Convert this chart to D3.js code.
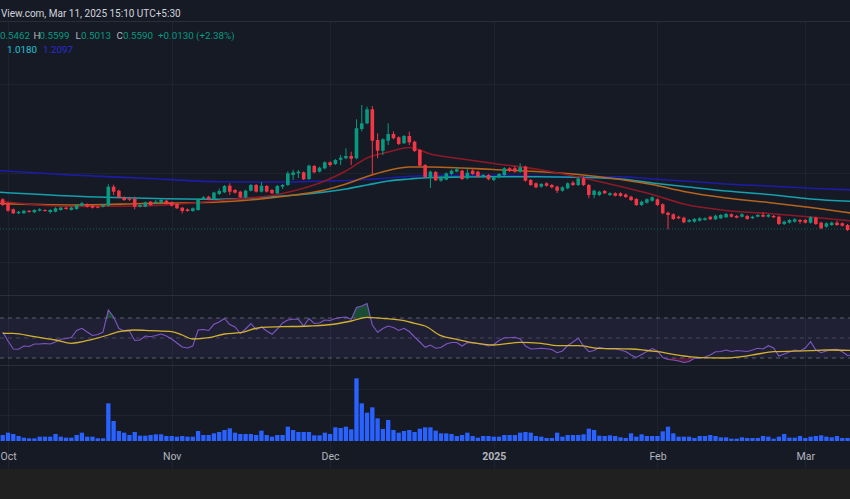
<!DOCTYPE html>
<html><head><meta charset="utf-8">
<script src="https://cdn.jsdelivr.net/npm/d3@7"></script>
<style>html,body{margin:0;padding:0;background:#161a25;overflow:hidden}</style>
</head><body><svg id="c" width="850" height="499"></svg>
<script>
// ---------- DATA ----------
const startDate = "2024-09-30"; // first daily bar, one bar per day
const open  = [1.058,0.991,0.890,0.823,0.823,0.866,0.840,0.866,0.878,0.844,0.849,0.878,0.918,0.878,0.895,0.950,0.979,0.950,0.933,0.933,0.950,1.269,1.202,1.091,1.068,1.063,0.933,0.933,1.018,0.991,1.001,1.034,1.007,0.979,0.917,0.890,0.861,0.878,1.058,1.101,1.058,1.147,1.175,1.286,1.214,1.186,1.091,1.202,1.298,1.186,1.281,1.214,1.159,1.270,1.298,1.466,1.494,1.511,1.399,1.618,1.522,1.578,1.679,1.651,1.721,1.747,1.785,1.747,2.239,2.334,2.570,2.054,1.874,2.042,2.155,2.099,1.999,2.121,2.025,1.886,1.634,1.411,1.516,1.371,1.387,1.483,1.522,1.539,1.410,1.539,1.522,1.438,1.466,1.382,1.427,1.466,1.579,1.579,1.522,1.606,1.382,1.327,1.270,1.327,1.298,1.269,1.202,1.243,1.337,1.298,1.410,1.298,1.130,1.130,1.197,1.130,1.159,1.159,1.138,1.101,1.063,0.962,1.001,1.034,1.058,0.974,0.833,0.806,0.765,0.749,0.682,0.682,0.698,0.710,0.765,0.722,0.739,0.756,0.806,0.778,0.765,0.778,0.739,0.765,0.794,0.765,0.778,0.765,0.643,0.665,0.682,0.710,0.710,0.665,0.749,0.665,0.597,0.626,0.665,0.655,0.626,0.542,0.5462];
const high  = [1.075,1.012,0.903,0.861,0.874,0.874,0.891,0.907,0.891,0.895,0.924,0.932,0.932,0.935,0.975,1.012,0.991,0.962,0.945,0.975,1.310,1.302,1.219,1.108,1.100,1.102,0.975,1.020,1.029,1.046,1.075,1.050,1.020,0.991,0.929,0.903,0.920,1.080,1.113,1.118,1.185,1.239,1.298,1.327,1.231,1.202,1.219,1.315,1.315,1.348,1.298,1.231,1.298,1.315,1.528,1.554,1.550,1.528,1.640,1.634,1.606,1.696,1.696,1.735,1.802,1.914,1.857,2.401,2.642,2.614,2.625,2.167,2.083,2.334,2.200,2.116,2.138,2.194,2.042,1.903,1.650,1.540,1.533,1.445,1.511,1.556,1.595,1.556,1.578,1.562,1.539,1.483,1.483,1.444,1.500,1.596,1.596,1.612,1.663,1.623,1.399,1.343,1.332,1.343,1.315,1.286,1.276,1.344,1.365,1.427,1.443,1.315,1.219,1.202,1.214,1.176,1.176,1.176,1.155,1.118,1.080,1.035,1.075,1.108,1.075,0.991,0.850,0.823,0.782,0.765,0.727,0.744,0.756,0.756,0.782,0.799,0.811,0.828,0.823,0.795,0.823,0.794,0.782,0.811,0.840,0.811,0.794,0.782,0.699,0.727,0.739,0.727,0.727,0.773,0.765,0.682,0.671,0.682,0.699,0.671,0.643,0.571,0.5599];
const low   = [0.945,0.849,0.811,0.811,0.815,0.836,0.827,0.853,0.849,0.819,0.840,0.866,0.882,0.870,0.882,0.945,0.920,0.903,0.907,0.920,0.941,1.130,1.075,1.029,1.029,0.890,0.920,0.924,0.950,0.979,0.991,0.966,0.937,0.895,0.819,0.849,0.849,0.866,1.046,1.041,1.046,1.130,1.164,1.130,1.155,1.080,1.075,1.190,1.172,1.172,1.172,1.147,1.147,1.231,1.281,1.382,1.416,1.382,1.382,1.494,1.511,1.561,1.606,1.634,1.634,1.730,1.634,1.730,2.200,2.318,1.466,1.747,1.802,1.970,2.066,1.970,1.987,1.970,1.852,1.606,1.416,1.248,1.365,1.354,1.377,1.466,1.511,1.382,1.394,1.466,1.421,1.421,1.377,1.365,1.410,1.449,1.516,1.505,1.505,1.354,1.281,1.242,1.253,1.270,1.242,1.164,1.186,1.226,1.281,1.281,1.281,1.075,1.075,1.113,1.147,1.113,1.105,1.100,1.080,1.029,0.945,0.945,0.985,1.018,0.945,0.806,0.554,0.710,0.722,0.655,0.665,0.665,0.682,0.698,0.710,0.710,0.727,0.744,0.752,0.739,0.752,0.715,0.727,0.756,0.756,0.752,0.744,0.626,0.626,0.652,0.665,0.648,0.652,0.648,0.626,0.555,0.580,0.610,0.610,0.600,0.526,0.520,0.5013];
const close = [0.962,0.866,0.823,0.849,0.866,0.844,0.878,0.890,0.861,0.878,0.907,0.918,0.895,0.918,0.962,0.991,0.933,0.917,0.917,0.962,1.269,1.185,1.091,1.046,1.050,0.933,0.962,1.007,0.962,1.018,1.046,0.979,0.950,0.907,0.861,0.861,0.907,1.063,1.091,1.058,1.172,1.197,1.281,1.185,1.169,1.091,1.202,1.298,1.186,1.286,1.186,1.159,1.281,1.298,1.494,1.511,1.522,1.394,1.623,1.511,1.589,1.679,1.634,1.718,1.757,1.785,1.740,2.251,2.334,2.570,2.042,1.874,2.066,2.155,2.083,1.987,2.121,2.015,1.869,1.622,1.432,1.522,1.377,1.427,1.494,1.539,1.562,1.399,1.505,1.483,1.438,1.466,1.394,1.427,1.483,1.579,1.533,1.522,1.595,1.370,1.298,1.259,1.315,1.286,1.259,1.202,1.259,1.327,1.298,1.410,1.298,1.130,1.202,1.186,1.159,1.159,1.118,1.113,1.096,1.046,0.962,1.018,1.058,1.091,0.962,0.823,0.794,0.727,0.739,0.671,0.710,0.727,0.739,0.739,0.722,0.782,0.794,0.811,0.765,0.749,0.806,0.727,0.765,0.794,0.765,0.794,0.756,0.643,0.682,0.710,0.722,0.682,0.665,0.756,0.643,0.571,0.654,0.665,0.626,0.614,0.542,0.546,0.5590];
const volume = [18,25,21,15,10,8,8,13,13,13,21,13,10,10,18,25,13,13,8,8,113,60,30,25,18,27,16,16,18,20,20,15,15,13,15,13,13,30,18,18,23,27,33,38,25,21,21,21,18,31,18,13,18,18,43,33,27,27,27,17,17,25,21,41,39,43,35,188,113,85,101,68,36,63,33,25,30,33,27,37,41,41,31,23,23,21,15,18,25,15,10,15,15,13,13,18,18,18,25,27,25,15,13,9,9,25,13,18,18,18,20,37,33,16,15,17,15,11,9,23,13,20,15,15,15,29,43,23,13,13,13,9,15,15,18,15,11,11,7,7,11,9,9,9,15,13,7,13,21,10,10,15,9,13,15,17,13,11,15,9,9,10,12];
const rsi = [56,47,39,38.7,42,41.5,44,44,44.5,44,46,48.7,49.5,50.5,57.5,59.7,56,52.5,53.5,56,78,71,59.5,57,57,47.5,48,52,51.3,52.5,54,52,49,45,41,40,42,58,58.5,57.5,63.7,66,69.5,63.5,61,54.5,59,64.5,58.5,61,57,53.7,59,65,68,68.7,68.7,62,69.5,64.5,65,68,67.5,69.5,70.5,71,68.7,80.5,82,84.5,63,55.7,59.5,62,60.5,57.5,59.7,56.5,51,46,40.7,43,39.7,40.5,44,45.5,45.5,42,45.5,45,44.5,43.5,42,43.5,47.5,50.3,50.3,50.7,49,42,39,39.3,39.7,39.3,38.5,35.3,37,42.5,46,49.7,42,36.3,37.5,40.5,39.5,39,39,38,36.5,33,30.5,33.5,36.5,39.5,37,30.5,28.5,28,27,25.5,26.5,29.7,29.7,31,33,36.3,36.5,38,36.5,37.5,37,36.5,38,39.7,39,42.3,40,32,34,36,38,37,40,46.3,38,35.3,37,38.5,38.7,36.3,32.5,33,36];
// RSI moving average, read at these day offsets from 2024-10-01
const rsiMaDays = [-1,1,5,9,12,16,19,21,24,27,31,33,35,38,41,44,48,52,57,62,65,68,71,75,77,79,82,85,88,92,97,101,104,108,112,118,123,128,131,136,139,142,145,152,155,161];
const rsiMa     = [54.7,54.7,51.3,48,44.7,48.7,53,56.3,58,57.3,56.3,53,49,50.3,54,55.3,60.7,61.3,62,64,67,70.7,69.7,67.3,64.7,62,52.3,48.7,45.3,43,45.7,44.7,42.3,42.3,39.7,39,36.3,32,30.3,30,31.3,34,36.3,37.3,38,37.3];
// price moving averages, read at these day offsets from 2024-10-01
const maDays = [-2,12,26,40,52,60,64,68,72,76,80,86,92,100,108,116,122,128,136,144,152,161];
const maRed    = [1.029,0.937,0.945,1.038,1.155,1.365,1.533,1.752,1.852,1.928,1.819,1.735,1.659,1.567,1.432,1.273,1.138,0.979,0.870,0.819,0.760,0.685];
const maOrange = [0.991,0.962,0.987,1.012,1.105,1.214,1.315,1.441,1.542,1.600,1.600,1.584,1.558,1.525,1.474,1.390,1.306,1.189,1.080,1.004,0.920,0.810];
const maCyan   = [1.180,1.113,1.075,1.059,1.113,1.180,1.231,1.298,1.365,1.399,1.424,1.432,1.437,1.437,1.427,1.399,1.332,1.273,1.197,1.138,1.063,1.018];
const maBlue   = [1.542,1.466,1.411,1.353,1.348,1.365,1.374,1.390,1.416,1.444,1.458,1.458,1.458,1.449,1.432,1.437,1.399,1.365,1.315,1.281,1.243,1.2097];
const lastPrice = 0.559;
const monthTicks  = ["2024-10-01","2024-11-01","2024-12-01","2025-01-01","2025-02-01","2025-03-01"];
const monthLabels = ["Oct","Nov","Dec","2025","Feb","Mar"];
const priceGrid = [0, 1.5, 3.0];
const volGrid = [78, 156];
const headerText = "View.com, Mar 11, 2025 15:10 UTC+5:30";
const changeText = "+0.0130 (+2.38%)";

// ---------- DRAW ----------
const W = 850, H = 499;
const svg = d3.select("#c");
const FONT = "Roboto, 'Noto Sans', 'DejaVu Sans', sans-serif";
const parse = d3.utcParse("%Y-%m-%d");
const d0 = parse(startDate), oct1 = parse("2024-10-01");
const dates = close.map((_, i) => d3.utcDay.offset(d0, i));
const offDate = d => d3.utcDay.offset(oct1, d);

const x = d3.scaleUtc().domain([parse("2024-10-01"), parse("2025-03-01")]).range([8, 805.3]);
const yP = d3.scaleLinear().domain([-0.55, 4.0364]).range([295, 22]);
const yR = d3.scaleLinear().domain([0, 100]).range([388, 288]);
const yV = d3.scaleLinear().domain([0, 216]).range([441, 369]);

svg.append("rect").attr("width", W).attr("height", H).attr("fill", "#161a25");
svg.append("rect").attr("y", 469).attr("width", W).attr("height", 30).attr("fill", "#202020");

const defs = svg.append("defs");
defs.append("clipPath").attr("id", "cp").append("rect").attr("x", 0).attr("y", 22).attr("width", W).attr("height", 273);
defs.append("clipPath").attr("id", "above70").append("rect").attr("x", 0).attr("y", 288).attr("width", W).attr("height", yR(70) - 288);
defs.append("clipPath").attr("id", "below30").append("rect").attr("x", 0).attr("y", yR(30)).attr("width", W).attr("height", 388 - yR(30));

// grid
const grid = svg.append("g").attr("stroke", "#1f2330").attr("stroke-width", 1);
monthTicks.forEach(t => {
  const gx = Math.round(x(parse(t))) + 0.5;
  grid.append("line").attr("x1", gx).attr("x2", gx).attr("y1", 22).attr("y2", 469);
});
priceGrid.forEach(p => {
  const gy = Math.round(yP(p)) + 0.5;
  grid.append("line").attr("x1", 0).attr("x2", W).attr("y1", gy).attr("y2", gy);
});
volGrid.forEach(v => {
  const gy = Math.round(yV(v)) + 0.5;
  grid.append("line").attr("x1", 0).attr("x2", W).attr("y1", gy).attr("y2", gy);
});
[21.5, 295.5, 365.5].forEach(sy => svg.append("line").attr("x1", 0).attr("x2", W).attr("y1", sy).attr("y2", sy).attr("stroke", "#2a2e39"));

// price panel
const pp = svg.append("g").attr("clip-path", "url(#cp)");
pp.append("line").attr("x1", 0).attr("x2", W).attr("y1", yP(lastPrice)).attr("y2", yP(lastPrice))
  .attr("stroke", "#089981").attr("stroke-opacity", 0.55).attr("stroke-dasharray", "1,2");

const maLine = vals => d3.line().x((d, i) => x(offDate(maDays[i]))).y(d => yP(d)).curve(d3.curveMonotoneX)(vals);
[[maBlue, "#1c1ca6"], [maCyan, "#14a0ad"], [maOrange, "#b5641c"], [maRed, "#8c1a26"]].forEach(([vals, col]) => {
  pp.append("path").attr("d", maLine(vals)).attr("fill", "none").attr("stroke", col).attr("stroke-width", 1.6);
});

const up = "#089981", dn = "#f23645";
const cg = pp.append("g");
dates.forEach((dt, i) => {
  const cx = x(dt), o = open[i], c = close[i];
  const col = c >= o ? up : dn;
  cg.append("line").attr("x1", cx).attr("x2", cx).attr("y1", yP(high[i])).attr("y2", yP(low[i])).attr("stroke", col).attr("stroke-width", 1);
  const top = yP(Math.max(o, c)), bot = yP(Math.min(o, c));
  cg.append("rect").attr("x", cx - 1.8).attr("width", 3.6).attr("y", top).attr("height", Math.max(1, bot - top)).attr("fill", col);
});

// RSI panel
svg.append("rect").attr("x", 0).attr("width", W).attr("y", yR(70)).attr("height", yR(30) - yR(70)).attr("fill", "#7e57c2").attr("fill-opacity", 0.1);
[[70, 0.7], [50, 0.45], [30, 0.7]].forEach(([v, op]) => {
  svg.append("line").attr("x1", 0).attr("x2", W).attr("y1", yR(v)).attr("y2", yR(v))
    .attr("stroke", "#787b86").attr("stroke-opacity", op).attr("stroke-dasharray", "4,4");
});
const rsiX = (d, i) => x(dates[i]);
svg.append("path").attr("clip-path", "url(#above70)")
  .attr("d", d3.area().x(rsiX).y0(yR(70)).y1(d => yR(d))(rsi)).attr("fill", "#1f8a4c").attr("fill-opacity", 0.45);
svg.append("path").attr("clip-path", "url(#below30)")
  .attr("d", d3.area().x(rsiX).y0(yR(30)).y1(d => yR(d))(rsi)).attr("fill", "#c2185b").attr("fill-opacity", 0.35);
svg.append("path").attr("d", d3.line().x(rsiX).y(d => yR(d))(rsi)).attr("fill", "none").attr("stroke", "#7e57c2").attr("stroke-width", 1.1);
svg.append("path").attr("d", d3.line().x((d, i) => x(offDate(rsiMaDays[i]))).y(d => yR(d)).curve(d3.curveMonotoneX)(rsiMa))
  .attr("fill", "none").attr("stroke", "#d2b030").attr("stroke-width", 1.3);

// volume
svg.append("g").selectAll("rect").data(volume).join("rect")
  .attr("x", (d, i) => x(dates[i]) - 2.15).attr("width", 4.3)
  .attr("y", d => yV(d)).attr("height", d => yV(0) - yV(d)).attr("fill", "#2962ff");

// axis
const ax = svg.append("g").attr("transform", "translate(0,449)")
  .call(d3.axisBottom(x).tickValues(monthTicks.map(parse)).tickFormat((d, i) => monthLabels[i]).tickSize(0).tickPadding(4));
ax.select(".domain").remove();
ax.selectAll("text").attr("fill", "#b2b5be").attr("font-family", FONT).attr("font-size", 10.5)
  .attr("font-weight", (d, i) => monthLabels[i] === "2025" ? "bold" : "normal");

// legend texts (as visible in the snapshot)
svg.append("text").attr("x", 1).attr("y", 17).attr("font-family", FONT).attr("font-size", 10)
  .attr("fill", "#d1d4dc").text(headerText);
const last = close.length - 1;
const gray = "#b2b5be";
const lg = svg.append("g").attr("font-family", FONT).attr("font-size", 9.8);
const items = [
  [0, open[last].toFixed(4), up],
  [33.5, "H", gray], [39.5, high[last].toFixed(4), up],
  [75.5, "L", gray], [81, low[last].toFixed(4), up],
  [116.5, "C", gray], [123, close[last].toFixed(4), up],
  [158, changeText, up]
];
items.forEach(([tx, s, c]) => lg.append("text").attr("x", tx).attr("y", 39).attr("fill", c).text(s));
lg.append("text").attr("x", 7).attr("y", 53).attr("fill", "#22c3d3").text(maCyan[maCyan.length - 1].toFixed(4));
lg.append("text").attr("x", 43).attr("y", 53).attr("fill", "#2a2ad8").text(maBlue[maBlue.length - 1].toFixed(4));
</script></body></html>
